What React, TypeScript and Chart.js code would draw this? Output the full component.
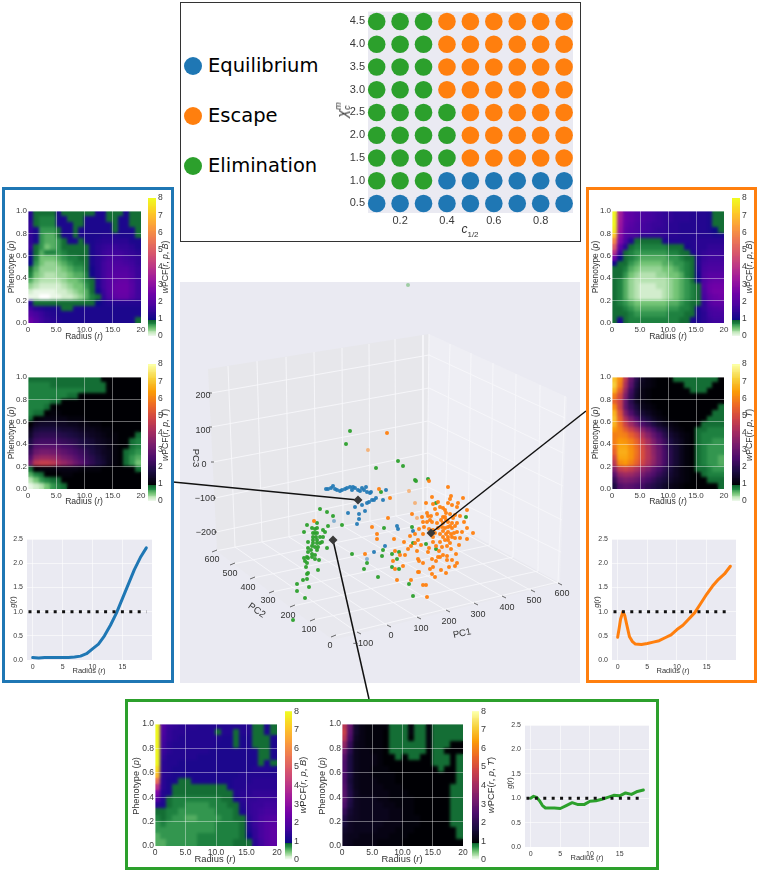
import React, { useEffect, useRef } from "react";
import { Chart, registerables } from "chart.js";
Chart.register(...registerables);

const BLUE = "#1f77b4", ORANGE = "#ff7f0e", GREEN = "#2ca02c";
const PANEL = "#eaeaf2";
const FONT = "'Liberation Sans', Arial, sans-serif";

// ---- phase diagram
const C_HALF = [0.1, 0.2, 0.3, 0.4, 0.5, 0.6, 0.7, 0.8, 0.9];
const CHI = [4.5, 4.0, 3.5, 3.0, 2.5, 2.0, 1.5, 1.0, 0.5];
const OUTCOME = ["GGGOOOOOO", "GGGOOOOOO", "GGGOOOOOO", "GGGOOOOOO", "GGGGOOOOO", "GGGGOOOOO", "GGGGOOOOO", "GGGBBBBBB", "BBBBBBBBB"];

// ---- g(r) curves
const R_VALUES = [0, 1, 2, 3, 4, 5, 6, 7, 8, 9, 10, 11, 12, 13, 14, 15, 16, 17, 18, 19];
const G_BLUE = [0.05, 0.04, 0.05, 0.05, 0.05, 0.05, 0.05, 0.06, 0.08, 0.13, 0.23, 0.33, 0.5, 0.72, 0.97, 1.27, 1.57, 1.87, 2.12, 2.32];
const G_ORANGE_R = [0, 0.25, 0.5, 0.9, 1.2, 1.5, 2, 2.5, 3, 4, 5, 6, 7, 8, 9, 10, 11, 12, 13, 14, 15, 16, 17, 18, 19];
const G_ORANGE = [0.47, 0.65, 0.85, 1.0, 0.92, 0.75, 0.48, 0.38, 0.33, 0.32, 0.34, 0.37, 0.4, 0.46, 0.52, 0.63, 0.72, 0.85, 0.98, 1.17, 1.36, 1.53, 1.67, 1.78, 1.94];
const G_GREEN_R = [0, 0.5, 1, 1.5, 2, 2.5, 3, 4, 5, 6, 7, 8, 9, 10, 11, 12, 13, 14, 15, 16, 17, 18, 19];
const G_GREEN = [1.0, 1.04, 1.02, 0.95, 0.85, 0.8, 0.8, 0.8, 0.79, 0.85, 0.91, 0.87, 0.87, 0.94, 0.95, 0.98, 1.02, 1.06, 1.05, 1.11, 1.08, 1.14, 1.17];

// ---- wPCF grids: wPCF x 10, rows p = 0.975 .. 0.025, columns r = 0.5 .. 19.5
const WPCF_EQ_B = [
[14,9,9,9,9,12,9,9,9,9,9,9,12,12,9,9,9,12,9,9],
[14,9,8,8,8,12,12,9,9,9,12,12,12,12,9,9,12,12,9,9],
[15,9,8,8,8,12,12,12,9,9,12,12,12,12,12,9,12,12,9,9],
[15,12,7,7,7,9,12,12,9,12,12,12,12,12,12,9,12,12,12,9],
[15,12,7,6,6,9,12,12,9,12,12,12,12,13,13,13,12,12,12,9],
[15,12,7,6,6,7,9,12,12,9,12,12,13,14,14,14,14,14,12,12],
[16,9,7,5,6,7,9,9,9,9,9,12,14,15,16,16,15,15,14,12],
[12,9,6,8,8,7,8,9,9,9,9,12,14,16,17,17,17,16,15,14],
[11,8,5,5,5,6,7,8,8,9,9,12,14,16,18,18,18,17,16,15],
[10,7,5,4,4,5,6,7,8,8,9,12,14,17,19,19,19,18,17,15],
[9,6,4,4,4,4,5,6,7,7,9,11,14,17,19,20,20,20,18,16],
[8,5,4,3,3,4,4,5,6,6,8,11,14,17,20,21,21,21,19,16],
[6,4,3,3,3,3,4,5,5,6,8,9,13,17,20,22,23,23,20,17],
[4,3,2,2,2,2,3,4,5,5,7,9,13,17,20,23,24,24,21,17],
[2,1,1,1,1,2,2,3,4,5,6,9,11,16,20,23,24,24,21,17],
[1,1,0,0,1,1,2,2,3,4,6,8,9,15,19,22,23,23,20,17],
[13,9,9,9,9,9,9,9,9,9,9,9,10,12,13,13,13,13,13,13],
[17,14,13,12,12,12,9,9,12,12,12,12,12,12,12,12,12,12,12,12],
[20,18,16,14,13,12,12,12,12,12,12,12,12,12,12,12,12,12,12,12],
[24,20,17,15,14,13,12,12,12,12,12,12,12,12,12,12,12,12,12,9],
];
const WPCF_EQ_T = [
[9,9,9,9,9,9,9,9,9,9,9,9,9,10,10,10,10,10,10,10],
[8,8,8,8,9,9,9,9,9,9,9,9,9,9,10,10,10,10,10,10],
[8,8,8,8,8,8,8,8,8,8,9,9,9,9,10,10,10,10,10,10],
[8,8,8,8,8,8,8,9,9,10,10,10,10,10,10,10,10,10,10,10],
[8,8,8,8,9,9,10,10,10,10,10,10,10,10,10,10,10,10,10,10],
[8,8,8,9,10,10,10,10,10,10,10,10,10,10,10,10,10,10,10,10],
[8,9,9,10,11,11,10,10,10,10,10,10,10,10,10,10,10,10,10,10],
[9,10,11,12,12,12,12,11,11,11,10,10,10,10,10,10,10,10,10,10],
[10,14,15,15,15,14,14,13,13,12,12,11,11,10,10,10,10,10,10,10],
[13,17,18,18,18,17,16,16,15,14,13,13,12,11,11,10,10,10,10,10],
[15,20,21,21,21,20,19,18,17,16,15,14,13,12,11,11,10,10,10,9],
[18,23,24,24,24,23,22,21,20,18,17,16,14,13,12,11,10,10,9,8],
[20,27,28,28,28,27,25,24,22,20,18,17,15,14,12,11,10,10,9,8],
[23,31,33,33,32,31,29,27,25,23,21,18,16,14,13,11,10,9,8,7],
[27,37,39,39,38,36,33,31,28,25,22,20,17,15,13,11,10,9,7,6],
[32,45,47,47,45,41,38,35,31,28,24,21,18,16,13,11,10,9,7,5],
[9,10,11,11,11,12,12,12,12,11,11,11,11,10,10,10,10,10,10,9],
[6,8,9,10,10,10,11,11,10,10,10,10,10,10,10,10,10,10,10,10],
[3,5,7,8,9,9,10,10,10,10,10,10,10,10,10,10,10,10,10,10],
[1,2,3,5,7,8,9,10,10,10,10,10,10,10,10,10,10,10,10,10],
];
const WPCF_ES_B = [
[80,35,24,22,20,19,18,17,16,15,15,14,14,14,13,13,13,12,9,9],
[80,34,24,22,20,19,18,17,16,15,15,14,14,14,13,13,13,12,9,9],
[80,33,23,21,19,18,17,16,16,15,14,14,13,13,13,13,13,12,9,9],
[78,32,22,20,19,18,17,16,15,15,14,14,13,13,13,13,13,12,10,9],
[72,30,21,19,18,15,15,15,15,15,14,14,13,13,13,13,13,13,12,12],
[60,28,19,13,9,9,9,9,9,12,13,13,13,13,13,14,14,14,14,14],
[50,22,14,9,8,8,8,8,8,8,9,9,9,12,13,14,14,15,15,15],
[40,17,9,8,7,7,7,7,7,7,8,8,9,9,12,14,15,16,16,16],
[25,10,9,8,7,6,6,6,6,6,7,7,8,9,9,13,16,17,17,17],
[11,9,9,7,6,5,5,5,5,6,6,7,7,8,9,13,17,18,18,18],
[9,9,8,6,5,4,4,4,4,5,5,6,7,8,9,12,18,19,19,19],
[9,9,7,5,4,3,3,3,4,4,5,5,6,8,9,11,19,21,21,21],
[9,8,6,4,3,3,3,3,3,3,4,5,6,7,9,10,19,22,23,23],
[9,8,6,4,3,2,2,2,3,3,4,5,6,7,8,9,20,24,25,25],
[9,8,6,4,3,2,2,2,2,3,4,5,6,7,8,9,19,24,26,26],
[9,8,6,4,3,2,2,2,2,3,4,5,6,7,8,9,18,22,24,25],
[9,8,7,6,5,5,5,5,5,5,6,6,7,8,9,9,15,20,22,22],
[9,9,8,7,6,6,6,6,6,6,7,7,8,8,9,12,15,18,19,20],
[9,9,9,8,7,7,7,7,7,7,8,8,8,9,9,12,14,17,18,18],
[9,12,9,8,8,8,8,8,8,8,8,8,9,9,12,12,14,16,17,17],
];
const WPCF_ES_T = [
[70,62,45,30,20,14,12,11,10,10,10,9,9,9,9,9,9,9,9,10],
[72,60,42,28,18,13,12,11,10,10,10,10,10,9,9,9,9,9,10,10],
[68,55,38,24,16,12,11,10,10,10,10,10,10,10,9,9,9,10,10,10],
[60,50,34,22,15,12,11,10,10,10,10,10,10,10,10,10,10,10,10,10],
[55,48,30,20,14,12,11,10,10,10,10,10,10,10,10,10,10,10,10,10],
[62,48,30,22,17,13,12,11,10,10,10,10,10,10,10,10,10,10,10,9],
[68,52,35,26,20,16,14,12,11,10,10,10,10,10,10,10,10,10,9,9],
[70,55,42,33,26,20,17,14,12,11,10,10,10,10,10,10,10,9,9,9],
[68,58,48,40,33,26,22,18,15,13,12,11,10,10,10,10,9,9,9,9],
[64,60,54,48,42,36,30,25,20,17,14,12,11,10,10,9,9,8,8,8],
[60,61,60,55,50,43,36,30,25,20,16,14,12,11,10,9,8,8,8,8],
[60,64,63,60,55,48,41,34,28,23,18,15,13,11,10,9,8,8,7,7],
[58,66,66,62,57,50,43,36,30,24,19,16,13,11,10,9,8,7,7,7],
[55,67,67,63,58,51,44,37,31,25,20,16,13,11,10,9,8,7,7,7],
[50,66,66,63,57,51,44,38,31,25,20,16,13,11,10,9,8,7,7,6],
[45,62,64,60,55,49,43,37,31,25,20,16,13,11,10,9,8,7,7,6],
[35,46,48,46,42,38,34,29,25,21,17,14,12,11,10,9,9,8,7,7],
[28,38,40,39,36,33,29,26,22,19,16,14,12,11,10,10,9,8,8,8],
[22,32,34,33,31,28,25,22,19,17,15,13,12,11,10,10,10,9,9,9],
[18,27,29,28,26,24,21,19,17,15,13,12,11,10,10,10,10,10,10,9],
];
const WPCF_EL_B = [
[80,20,16,15,14,14,14,13,13,13,13,13,13,13,13,13,9,9,12,9],
[80,19,15,14,14,13,13,13,13,13,9,13,13,9,13,13,9,9,12,9],
[80,18,15,14,13,13,13,13,13,13,13,12,12,9,12,12,9,9,9,12],
[80,17,14,13,13,13,13,13,13,13,12,12,12,9,12,12,9,9,9,12],
[80,16,14,13,13,13,13,13,13,12,12,12,12,12,12,12,12,9,9,12],
[80,15,13,13,13,13,13,12,12,12,12,12,12,12,12,12,12,9,9,12],
[80,14,13,13,12,12,12,12,12,12,12,12,12,12,12,12,12,9,12,9],
[75,14,13,12,12,12,12,12,12,12,12,12,12,12,12,12,13,13,13,12],
[70,14,13,12,12,12,12,12,12,12,12,12,12,12,13,13,13,13,13,13],
[55,14,12,12,9,9,12,12,12,12,12,12,12,13,13,13,14,14,14,14],
[40,14,12,9,9,9,9,9,9,9,9,9,12,13,13,14,14,14,14,14],
[28,13,12,9,9,9,9,9,9,9,9,9,9,13,14,14,15,15,15,15],
[20,13,9,8,8,8,8,8,8,8,8,9,9,12,14,15,15,16,16,16],
[14,12,9,8,8,7,7,7,7,8,8,8,9,9,13,15,16,16,17,17],
[9,9,8,8,7,7,7,7,7,7,8,8,8,9,12,15,16,17,18,18],
[8,9,8,7,7,6,6,7,7,7,7,8,8,9,9,14,16,18,19,20],
[7,8,7,7,7,7,7,7,7,7,8,8,8,8,9,13,16,18,20,21],
[7,7,7,7,7,7,7,7,7,7,8,8,8,8,9,12,15,18,20,22],
[6,7,7,7,7,7,7,8,8,8,8,8,8,8,9,10,15,18,20,22],
[6,6,7,7,7,7,7,8,8,8,8,8,8,9,9,9,14,17,20,22],
];
const WPCF_EL_T = [
[45,30,15,12,11,11,11,11,9,9,9,11,9,9,11,9,9,9,9,9],
[48,28,15,12,11,11,11,10,9,9,9,11,9,9,11,9,9,9,9,9],
[45,26,14,12,11,11,11,10,9,9,9,10,9,9,11,9,9,9,9,9],
[38,22,13,12,11,11,11,10,9,9,9,9,9,9,11,9,9,9,10,10],
[32,20,13,12,12,11,11,10,9,9,9,9,9,9,10,9,9,10,10,10],
[28,18,13,12,12,12,11,10,10,9,10,9,9,10,10,9,9,9,10,9],
[26,18,13,12,12,12,11,10,10,10,10,10,10,10,10,9,9,9,10,9],
[26,18,13,12,12,11,11,11,10,10,10,10,10,10,10,10,9,10,10,9],
[26,18,13,12,12,11,11,11,11,10,10,10,10,10,10,10,10,10,10,9],
[26,17,13,12,12,12,11,11,11,10,10,10,10,10,10,10,10,10,10,9],
[27,18,13,12,12,12,12,11,11,11,10,10,10,10,10,10,10,10,9,9],
[28,19,14,12,12,12,12,12,11,11,11,10,10,10,10,10,10,10,9,9],
[28,19,14,13,13,13,12,12,11,11,11,11,10,10,10,10,10,10,9,9],
[26,18,14,13,13,13,13,12,12,11,11,11,10,10,10,10,10,10,9,9],
[22,16,14,13,13,13,13,13,12,12,11,11,10,10,10,10,10,10,9,9],
[19,15,14,13,13,13,13,13,12,12,11,11,11,10,10,10,10,10,9,9],
[17,14,13,13,13,13,13,12,12,12,11,11,11,10,10,10,10,10,9,9],
[15,14,13,13,13,13,12,12,12,11,11,11,10,10,10,10,10,10,10,9],
[14,13,13,12,12,12,12,12,11,11,11,10,10,10,10,10,10,10,10,9],
[14,13,12,12,12,12,11,11,11,11,10,10,10,10,10,10,10,10,10,10],
];

// ---- 3D scatter: positions in the projected view plane of the PC1/PC2/PC3 axes
const SC_ELIMINATION = [[320,509],[327,512],[333,516],[328,526],[342,525],[304,532],[307,525],[317,523],[312,528],[315,529],[317,528],[323,530],[325,532],[313,533],[315,533],[317,533],[313,537],[316,537],[320,537],[323,537],[313,540],[317,540],[322,542],[308,542],[313,543],[317,543],[320,543],[312,546],[315,547],[318,547],[327,548],[308,548],[311,550],[317,550],[308,552],[312,554],[315,555],[307,557],[304,558],[308,558],[312,557],[315,559],[319,560],[305,561],[307,563],[306,567],[308,573],[307,574],[318,570],[303,580],[307,579],[297,584],[309,587],[297,591],[305,598],[293,620],[352,554],[367,563],[364,569],[378,577],[381,492],[384,528],[412,527],[413,543],[426,544],[436,549],[466,517],[436,503],[383,550],[392,554],[399,552],[382,556],[397,559],[392,567],[399,569],[409,584],[413,596],[416,481],[350,431],[346,444],[376,468],[398,461],[403,466],[415,480],[428,479]];
const SC_ELIMINATION_FAINT = [[408,285]];
const SC_EQUILIBRIUM = [[326,489],[328,489],[331,488],[333,486],[335,489],[337,490],[340,491],[342,490],[345,489],[347,488],[350,487],[352,490],[353,487],[355,488],[358,490],[360,491],[362,488],[364,490],[366,487],[367,492],[371,492],[370,493],[372,500],[369,502],[374,500],[376,498],[367,503],[362,505],[355,507],[348,513],[359,514],[365,511],[359,519],[357,524],[386,490],[383,500],[397,526],[398,529],[413,531],[385,546],[374,552]];
const SC_EQUILIBRIUM_FAINT = [[334,521],[367,559]];
const SC_ESCAPE = [[314,521],[372,527],[377,534],[377,539],[365,554],[379,489],[387,433],[429,481],[448,487],[390,498],[432,497],[451,496],[463,498],[450,499],[426,503],[433,504],[438,502],[448,503],[452,505],[440,507],[443,508],[457,507],[467,510],[412,514],[422,517],[427,513],[428,516],[437,514],[445,510],[445,517],[443,517],[455,515],[453,518],[388,518],[423,522],[427,522],[430,520],[432,522],[437,523],[448,522],[452,523],[457,523],[443,523],[419,529],[423,534],[433,530],[435,533],[442,527],[445,528],[448,527],[443,531],[452,528],[448,532],[454,533],[457,532],[462,532],[467,528],[473,533],[467,539],[443,537],[448,537],[452,537],[440,542],[445,540],[448,540],[450,543],[433,537],[418,540],[404,542],[394,539],[415,543],[421,545],[433,542],[442,547],[447,546],[459,545],[411,546],[408,549],[417,551],[428,552],[456,554],[443,555],[440,557],[438,557],[447,556],[400,555],[405,555],[395,551],[393,561],[418,559],[419,561],[423,563],[432,559],[436,561],[447,560],[452,560],[457,563],[455,566],[433,567],[430,569],[441,570],[449,567],[419,572],[418,572],[432,574],[435,577],[446,573],[403,566],[395,569],[397,580],[411,580],[423,585],[426,585],[427,597],[446,513],[450,514],[441,520],[446,520],[450,526],[455,526],[438,528],[440,534],[446,534],[451,534],[455,538],[460,538],[436,546],[429,548],[439,551],[451,549],[464,522],[460,516],[435,509],[431,516],[424,527],[415,534],[410,536],[429,529],[458,503]];
const SC_ESCAPE_FAINT = [[368,450],[409,491],[415,503],[417,518]];
const MEDOIDS = [[358,500],[333,540],[431,533]];
const LINK_EQ = [[173,482],[358,500]];
const LINK_EL = [[333,540],[369,699]];
const LINK_ES = [[431,533],[586,411]];

// ---- 3D box geometry in the same view plane
const VIEW_PANEL = [[180,282],[580,282],[580,683],[180,683]];
const WALL_LEFT = [[208,369],[429,334],[427,510],[217,551]];
const WALL_RIGHT = [[429,334],[567,397],[560,583],[427,510]];
const FLOOR = [[217,551],[427,510],[560,583],[333,640]];
const PC1_TICKS = [[358,633],[388,626],[418,618],[447,611],[475,604],[503,597],[532,591],[559,584]];
const PC1_BACK = [[235,547],[262,542],[289,537],[316,532],[343,526],[370,521],[396,516],[423,511]];
const PC1_TOP = [[228,366],[257,361],[286,357],[314,352],[342,348],[369,344],[395,339],[423,335]];
const PC2_TICKS = [[215,551],[233,564],[253,578],[272,592],[293,606],[313,620],[334,636]];
const PC2_SIDE = [[427,510],[445,520],[468,532],[490,545],[513,557],[538,571],[558,582]];
const PC2_TOP = [[429,334],[450,344],[471,353],[493,363],[516,374],[540,385],[565,396]];
const PC3_LEFT = [[211,393],[211,427],[213,462],[215,498],[216,532]];
const PC3_BACK = [[429,355],[429,388],[428,421],[428,453],[428,487]];
const PC3_RIGHT = [[565,418],[563,453],[563,486],[562,520],[561,552]];
const PC1_LABELS = [["\u2212100",363,643],["0",391,635],["100",421,628],["200",449,621],["300",478,614],["400",507,607],["500",534,600],["600",562,593]];
const PC2_LABELS = [["600",212,559],["500",230,573],["400",248,587],["300",268,600],["200",288,615],["100",309,629],["0",330,645]];
const PC3_LABELS = [["200",203,395],["100",203,430],["0",204,464],["\u2212100",205,498],["\u2212200",206,532]];

// ---- colour scales
const GREENS = ["#ffffff", "#c7e9c0", "#74c476", "#238b45", "#0a5a2a"];
const PLASMA = ["#0d0887", "#46039f", "#7201a8", "#9c179e", "#bd3786", "#d8576b", "#ed7953", "#fb9f3a", "#fdca26", "#f0f921"];
const INFERNO = ["#000004", "#1b0c41", "#4a0c6b", "#781c6d", "#a52c60", "#cf4446", "#ed6925", "#fb9b06", "#f7d13d", "#fcffa4"];

function hexRgb(h: string) { return [1, 3, 5].map((i) => parseInt(h.slice(i, i + 2), 16)); }
function ramp(stops: string[], t: number) {
  const f = Math.min(Math.max(t, 0), 1) * (stops.length - 1);
  const i = Math.min(Math.floor(f), stops.length - 2);
  const a = hexRgb(stops[i]), b = hexRgb(stops[i + 1]);
  const m = a.map((c, k) => Math.round(c + (b[k] - c) * (f - i)));
  return `rgb(${m[0]},${m[1]},${m[2]})`;
}
function wpcfColor(v: number, high: string[]) {
  return v < 1 ? ramp(GREENS, v) : ramp(high, (v - 1) / 7);
}
const cellCache = new Map<string, HTMLCanvasElement>();
function cellImage(color: string, w: number, h: number) {
  const key = `${color}|${w}|${h}`;
  let c = cellCache.get(key);
  if (!c) {
    c = document.createElement("canvas");
    c.width = w; c.height = h;
    const g = c.getContext("2d")!;
    g.fillStyle = color; g.fillRect(0, 0, w, h);
    cellCache.set(key, c);
  }
  return c;
}

const plotBackground = {
  id: "plotBackground",
  beforeDraw(chart: any) {
    const { ctx, chartArea: a } = chart;
    ctx.save();
    ctx.fillStyle = PANEL;
    ctx.fillRect(a.left, a.top, a.right - a.left, a.bottom - a.top);
    ctx.restore();
  },
};
// the reference heatmaps are smooth fields: soften the drawn cells inside the plot area
const softenCells = {
  id: "softenCells",
  afterDatasetsDraw(chart: any) {
    const { ctx, chartArea: a, canvas } = chart;
    ctx.save();
    ctx.beginPath();
    ctx.rect(a.left, a.top, a.right - a.left, a.bottom - a.top);
    ctx.clip();
    ctx.filter = "blur(1.6px)";
    ctx.drawImage(canvas, 0, 0);
    ctx.restore();
  },
};

type Rect = [number, number, number, number];
type Margin = [number, number, number, number]; // left, top, right, bottom

function ChartBox({ plot, m, build }: { plot: Rect; m: Margin; build: () => any }) {
  const ref = useRef<HTMLCanvasElement>(null);
  useEffect(() => {
    const chart = new Chart(ref.current!, build());
    return () => chart.destroy();
  }, []);
  const w = plot[2] - plot[0] + m[0] + m[2];
  const h = plot[3] - plot[1] + m[1] + m[3];
  return <canvas ref={ref} width={w} height={h} style={{ position: "absolute", left: plot[0] - m[0], top: plot[1] - m[1], width: w, height: h, display: "block" }} />;
}

function base(m: Margin, scales: any, extra: any = {}) {
  return {
    responsive: false, animation: false, events: [],
    layout: { autoPadding: false, padding: { left: 0, top: m[1], right: m[2], bottom: 0 } },
    plugins: { legend: { display: false }, tooltip: { enabled: false } },
    scales, ...extra,
  };
}
const fitW = (v: number) => (s: any) => { s.width = v; };
const fitH = (v: number) => (s: any) => { s.height = v; };
const tickFont = (size: number) => ({ family: FONT, size });

function Heat({ plot, grid, high, fs }: { plot: Rect; grid: number[][]; high: string[]; fs: number }) {
  const m: Margin = [26, 6, 12, 14];
  const cw = Math.ceil((plot[2] - plot[0]) / 20) + 1;
  const ch = Math.ceil((plot[3] - plot[1]) / 20) + 1;
  const build = () => {
    const data = grid.flatMap((row, i) => row.map((v, j) => ({ x: j + 0.5, y: 1 - (i + 0.5) / 20, v: v / 10 })));
    return {
      type: "scatter",
      plugins: [softenCells],
      data: { datasets: [{ data, pointRadius: 1, pointStyle: (c: any) => cellImage(wpcfColor(c.raw.v, high), cw, ch) }] },
      options: base(m, {
        x: { type: "linear", min: 0, max: 20, afterFit: fitH(m[3]), border: { display: false },
          grid: { z: 1, color: "rgba(255,255,255,0.4)", drawTicks: false },
          ticks: { z: 2, stepSize: 5, padding: 2, maxRotation: 0, color: "#3a3a3a", font: tickFont(fs), autoSkip: false,
            callback: (v: number) => (v === 0 ? "0" : v === 20 ? "20" : v.toFixed(1)) } },
        y: { type: "linear", min: 0, max: 1, afterFit: fitW(m[0]), border: { display: false },
          grid: { z: 1, color: "rgba(255,255,255,0.4)", drawTicks: false },
          ticks: { z: 2, stepSize: 0.2, padding: 1, color: "#3a3a3a", font: tickFont(fs), callback: (v: number) => v.toFixed(1) } },
      }),
    };
  };
  return <ChartBox plot={plot} m={m} build={build} />;
}

const BAR_VALUES = Array.from({ length: 161 }, (_, i) => i / 20);
const BAR_TICKS = [0, 1, 2, 3, 4, 5, 6, 7, 8];

function ColorBar({ plot, high, fs }: { plot: Rect; high: string[]; fs: number }) {
  const m: Margin = [0, 6, 14, 6];
  const build = () => ({
    type: "scatter",
    data: { datasets: [{ data: BAR_VALUES.map((v) => ({ x: 0.5, y: v })), pointRadius: 1,
      pointStyle: (c: any) => cellImage(wpcfColor(c.raw.y, high), plot[2] - plot[0] + 2, 3) }] },
    options: {
      ...base(m, {
        x: { type: "linear", min: 0, max: 1, display: false },
        y: { type: "linear", position: "right", min: 0, max: 8, afterFit: fitW(m[2]), border: { display: false },
          afterBuildTicks: (s: any) => { s.ticks = BAR_TICKS.map((value) => ({ value })); },
          grid: { display: false, drawTicks: false },
          ticks: { padding: 2, color: "#3a3a3a", font: tickFont(fs) } },
      }),
      layout: { autoPadding: false, padding: { left: 0, top: m[1], right: 0, bottom: m[3] } },
    },
  });
  return <ChartBox plot={plot} m={m} build={build} />;
}

function GCurve({ plot, xs, ys, color, fs }: { plot: Rect; xs: number[]; ys: number[]; color: string; fs: number }) {
  const m: Margin = [22, 6, 6, 12];
  const build = () => ({
    type: "scatter",
    plugins: [plotBackground],
    data: { datasets: [
      { data: [{ x: -0.7, y: 1 }, { x: 19, y: 1 }], showLine: true, pointRadius: 0, borderColor: "#111", borderWidth: 3, borderDash: [3, 5.4] },
      { data: xs.map((x, i) => ({ x, y: ys[i] })), showLine: true, pointRadius: 0, borderColor: color, borderWidth: 3, borderCapStyle: "round", borderJoinStyle: "round" },
    ] },
    options: base(m, {
      x: { type: "linear", min: -0.95, max: 19.95, afterFit: fitH(m[3]), border: { display: false },
        grid: { color: "rgba(255,255,255,0.55)", drawTicks: false },
        ticks: { stepSize: 5, includeBounds: false, padding: 3, maxRotation: 0, color: "#3a3a3a", font: tickFont(fs) } },
      y: { type: "linear", min: 0, max: 2.5, afterFit: fitW(m[0]), border: { display: false },
        grid: { color: "rgba(255,255,255,0.55)", drawTicks: false },
        ticks: { stepSize: 0.5, padding: 4, color: "#3a3a3a", font: tickFont(fs), callback: (v: number) => v.toFixed(1) } },
    }),
  });
  return <ChartBox plot={plot} m={m} build={build} />;
}

function PhaseChart() {
  const plot: Rect = [368, 8, 573, 213];
  const m: Margin = [26, 6, 6, 16];
  const pick = (code: string) => OUTCOME.flatMap((row, i) => row.split("").flatMap((c, j) => (c === code ? [{ x: C_HALF[j], y: CHI[i] }] : [])));
  const ds = (code: string, color: string) => ({ data: pick(code), pointRadius: 8.8, pointBackgroundColor: color, pointBorderWidth: 0, clip: false });
  const build = () => ({
    type: "scatter",
    plugins: [plotBackground],
    data: { datasets: [ds("B", BLUE), ds("O", ORANGE), ds("G", GREEN)] },
    options: base(m, {
      x: { type: "linear", min: 0.063, max: 0.938, afterFit: fitH(m[3]), border: { display: false },
        grid: { display: false, drawTicks: false },
        ticks: { stepSize: 0.2, includeBounds: false, padding: 1, maxRotation: 0, color: "#3a3a3a", font: tickFont(11), callback: (v: number) => v.toFixed(1) } },
      y: { type: "linear", min: 0.29, max: 4.716, afterFit: fitW(m[0]), border: { display: false },
        grid: { display: false, drawTicks: false },
        ticks: { stepSize: 0.5, includeBounds: false, padding: 3, color: "#3a3a3a", font: tickFont(11), callback: (v: number) => v.toFixed(1) } },
    }),
  });
  return <ChartBox plot={plot} m={m} build={build} />;
}

function View3D() {
  const plot: Rect = [172, 281, 587, 701];
  const m: Margin = [0, 0, 0, 0];
  const pts = (a: number[][]) => a.map(([x, y]) => ({ x, y }));
  const poly = (a: number[][], color: string, order: number) => ({
    data: pts([...a, a[0]]), showLine: true, pointRadius: 0, borderWidth: 0, borderColor: color, backgroundColor: color, fill: "shape", order,
  });
  const seg = (a: number[][], color: string, width: number, order: number) => ({
    data: pts(a), showLine: true, pointRadius: 0, borderColor: color, borderWidth: width, order,
  });
  const dots = (a: number[][], color: string, order: number, r = 2) => ({
    data: pts(a), pointRadius: r, pointBackgroundColor: color, pointBorderWidth: 0, order,
  });
  const build = () => {
    const grid: any[] = [];
    PC1_TOP.forEach((p, i) => { grid.push(seg([p, PC1_BACK[i], PC1_TICKS[i]], "#f7f7fa", 0.9, 40)); });
    PC2_TOP.forEach((p, i) => { grid.push(seg([p, PC2_SIDE[i], PC2_TICKS[i]], "#f7f7fa", 0.9, 40)); });
    PC3_LEFT.forEach((p, i) => { grid.push(seg([p, PC3_BACK[i], PC3_RIGHT[i]], "#f7f7fa", 0.9, 40)); });
    const tick = (p: number[], dx1: number, dy1: number, dx2: number, dy2: number) =>
      seg([[p[0] + dx1, p[1] + dy1], [p[0] + dx2, p[1] + dy2]], "#444", 0.8, 35);
    PC1_TICKS.forEach((p) => grid.push(tick(p, -1, -1, 3, 1)));
    PC2_TICKS.forEach((p) => grid.push(tick(p, -3, 1, 2, -1)));
    PC3_LEFT.forEach((p) => grid.push(tick(p, -2, 0, 1, 0)));
    return {
      type: "scatter",
      data: { datasets: [
        poly(VIEW_PANEL, PANEL, 60), poly(WALL_LEFT, "#e7e7eb", 50), poly(WALL_RIGHT, "#eeeef4", 50), poly(FLOOR, "#e8e8ee", 50),
        ...grid,
        dots(SC_ELIMINATION_FAINT, "rgba(44,160,44,0.4)", 30), dots(SC_EQUILIBRIUM_FAINT, "rgba(31,119,180,0.5)", 30), dots(SC_ESCAPE_FAINT, "rgba(255,127,14,0.5)", 30),
        dots(SC_ESCAPE, "rgba(255,127,14,0.95)", 20), dots(SC_EQUILIBRIUM, "rgba(31,119,180,0.92)", 20), dots(SC_ELIMINATION, "rgba(44,160,44,0.95)", 20),
        seg(LINK_EQ, "#111", 1.5, 10), seg(LINK_EL, "#111", 1.5, 10), seg(LINK_ES, "#111", 1.5, 10),
        { data: pts(MEDOIDS), pointStyle: "rectRot", pointRadius: 4.5, pointBackgroundColor: "#3a3a3a", pointBorderWidth: 0, order: 1 },
      ] },
      options: {
        ...base(m, {
          x: { type: "linear", min: plot[0], max: plot[2], display: false },
          y: { type: "linear", min: plot[1], max: plot[3], reverse: true, display: false },
        }),
        layout: { autoPadding: false, padding: 0 },
      },
    };
  };
  return <ChartBox plot={plot} m={m} build={build} />;
}

function T({ x, y, s, rot = 0, color = "#333", font = FONT, children }: any) {
  return (
    <span style={{ position: "absolute", left: x, top: y, transform: `translate(-50%,-50%) rotate(${rot}deg)`, fontFamily: font, fontSize: s, color, whiteSpace: "nowrap", lineHeight: 1 }}>
      {children}
    </span>
  );
}
const Radius = ({ x, y, s }: any) => <T x={x} y={y} s={s}>Radius (<i>r</i>)</T>;
const Pheno = ({ x, y, s }: any) => <T x={x} y={y} s={s} rot={-90}>Phenotype (<i>p</i>)</T>;
const GLab = ({ x, y, s }: any) => <T x={x} y={y} s={s} rot={-90}><i>g</i>(<i>r</i>)</T>;
const WLab = ({ x, y, s, k }: any) => <T x={x} y={y} s={s} rot={-90}><i>w</i>PCF(<i>r</i>, <i>p</i>, <i>{k}</i>)</T>;

function Box({ l, t, r, b, color, w = 3 }: any) {
  return <div style={{ position: "absolute", left: l, top: t, width: r - l, height: b - t, boxSizing: "border-box", border: `${w}px solid ${color}` }} />;
}
function LegendItem({ y, color, label }: any) {
  return (
    <>
      <div style={{ position: "absolute", left: 184, top: y - 9, width: 18, height: 18, borderRadius: 9, background: color }} />
      <span style={{ position: "absolute", left: 208, top: y - 13, fontFamily: "'DejaVu Sans', sans-serif", fontSize: 19.5, lineHeight: "26px", color: "#000", whiteSpace: "nowrap" }}>{label}</span>
    </>
  );
}

export default function App() {
  return (
    <div style={{ position: "absolute", left: 0, top: 0, width: 759, height: 872, background: "#fff", overflow: "hidden", filter: "blur(0.35px)" }}>
      <View3D />
      {PC1_LABELS.map(([t, x, y]) => <T key={"a" + t} x={x} y={y} s={9}>{t}</T>)}
      {PC2_LABELS.map(([t, x, y]) => <T key={"b" + t} x={x} y={y} s={9}>{t}</T>)}
      {PC3_LABELS.map(([t, x, y]) => <T key={"c" + t} x={x} y={y} s={9}>{t}</T>)}
      <T x={462} y={633} s={9.5} rot={-12}>PC1</T>
      <T x={257} y={610} s={9.5} rot={35}>PC2</T>
      <T x={196} y={458} s={9.5} rot={90}>PC3</T>

      <Box l={180} t={2} r={581} b={242} color="#333" w={1.5} />
      <PhaseChart />
      <LegendItem y={66} color={BLUE} label="Equilibrium" />
      <LegendItem y={116} color={ORANGE} label="Escape" />
      <LegendItem y={166} color={GREEN} label="Elimination" />
      <T x={470} y={231} s={12}><i>c</i><sub style={{ fontSize: 8 }}>1/2</sub></T>
      <T x={343} y={110} s={14} rot={-90}><i>χ</i><span style={{ display: "inline-block", verticalAlign: "middle", fontSize: 9, lineHeight: "9px", fontStyle: "italic" }}>m<br />c</span></T>

      <Box l={2} t={187} r={174} b={683} color={BLUE} />
      <Heat plot={[28, 211, 141, 323]} grid={WPCF_EQ_B} high={PLASMA} fs={8} />
      <ColorBar plot={[148, 197, 156, 337]} high={PLASMA} fs={8.5} />
      <Pheno x={11} y={267} s={8.4} /><Radius x={84} y={336} s={8.6} /><WLab x={165} y={267} s={8.7} k="B" />
      <Heat plot={[28, 377, 141, 489]} grid={WPCF_EQ_T} high={INFERNO} fs={8} />
      <ColorBar plot={[148, 363, 156, 502]} high={INFERNO} fs={8.5} />
      <Pheno x={11} y={433} s={8.4} /><Radius x={84} y={501} s={8.6} /><WLab x={165} y={435} s={8.7} k="T" />
      <GCurve plot={[27, 537, 152, 660]} xs={R_VALUES} ys={G_BLUE} color={BLUE} fs={7} />
      <GLab x={13} y={602} s={7.5} /><Radius x={89} y={671} s={7.5} />

      <Box l={586} t={187} r={757} b={683} color={ORANGE} />
      <Heat plot={[612, 211, 724, 323]} grid={WPCF_ES_B} high={PLASMA} fs={8} />
      <ColorBar plot={[732, 197, 740, 337]} high={PLASMA} fs={8.5} />
      <Pheno x={595} y={267} s={8.4} /><Radius x={668} y={336} s={8.6} /><WLab x={749} y={267} s={8.7} k="B" />
      <Heat plot={[612, 377, 724, 489]} grid={WPCF_ES_T} high={INFERNO} fs={8} />
      <ColorBar plot={[732, 363, 740, 502]} high={INFERNO} fs={8.5} />
      <Pheno x={595} y={433} s={8.4} /><Radius x={668} y={501} s={8.6} /><WLab x={749} y={435} s={8.7} k="T" />
      <GCurve plot={[612, 537, 736, 660]} xs={G_ORANGE_R} ys={G_ORANGE} color={ORANGE} fs={7} />
      <GLab x={597} y={602} s={7.5} /><Radius x={673} y={671} s={7.5} />

      <Box l={125} t={699} r={659} b={870} color={GREEN} />
      <Heat plot={[155, 724, 277, 846]} grid={WPCF_EL_B} high={PLASMA} fs={8.5} />
      <ColorBar plot={[285, 710, 292, 861]} high={PLASMA} fs={9} />
      <Pheno x={137} y={786} s={9.2} /><Radius x={215} y={859} s={9.4} /><WLab x={303} y={785} s={9.4} k="B" />
      <Heat plot={[342, 724, 463, 846]} grid={WPCF_EL_T} high={INFERNO} fs={8.5} />
      <ColorBar plot={[472, 710, 479, 861]} high={INFERNO} fs={9} />
      <Pheno x={323} y={786} s={9.2} /><Radius x={402} y={859} s={9.4} /><WLab x={491} y={785} s={9.4} k="T" />
      <GCurve plot={[525, 723, 649, 847]} xs={G_GREEN_R} ys={G_GREEN} color={GREEN} fs={7} />
      <GLab x={510} y={783} s={7.5} /><Radius x={587} y={858} s={7.5} />
    </div>
  );
}
